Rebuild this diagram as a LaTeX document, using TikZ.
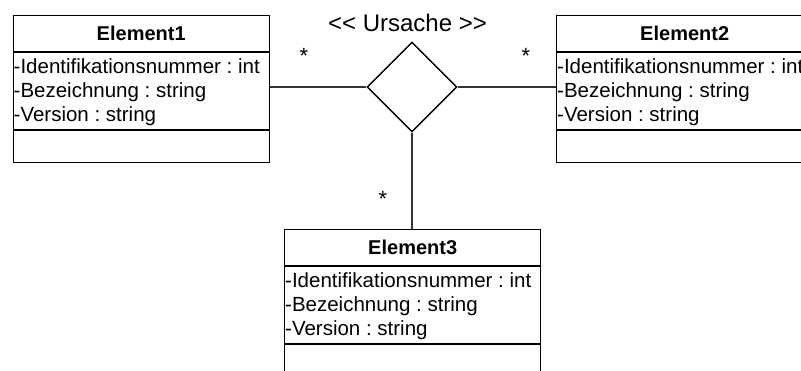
\documentclass[tikz,border=0pt]{standalone}
\usepackage{fontspec}
\setmainfont{Liberation Sans}
\usetikzlibrary{shapes.geometric}
\frenchspacing

\tikzset{
  classbox/.style={draw=black, line width=1.4pt, minimum width=256pt, minimum height=147pt, inner sep=0pt},
  divider/.style={draw=black, line width=1.4pt},
  classtitle/.style={font=\fontsize{20}{23}\selectfont\bfseries, inner sep=0pt},
  attr/.style={font=\fontsize{20.5}{23}\selectfont, inner sep=0pt, anchor=base west},
  relation/.style={shape=diamond, draw=black, line width=1.4pt, minimum width=90pt, minimum height=90pt, inner sep=0pt},
  assoc/.style={draw=black!80, line width=1.1pt},
  mult/.style={font=\fontsize{22}{24}\selectfont, inner sep=0pt},
  stereo/.style={font=\fontsize{24}{26}\selectfont, inner sep=0pt}
}

% \drawclass{name}{left x}{top y}{title}
\newcommand\drawclass[4]{%
  \node[classbox, anchor=north west] (#1) at (#2,#3) {};
  \draw[divider] ([yshift=-37pt]#1.north west) -- ([yshift=-37pt]#1.north east);
  \draw[divider] ([yshift=-115pt]#1.north west) -- ([yshift=-115pt]#1.north east);
  \node[classtitle] (#1-title) at ([yshift=-18.5pt]#1.north) {#4};
  \node[attr] (#1-a1) at ([xshift=1pt, yshift=-58pt]#1.north west) {-Identifikationsnummer : int};
  \node[attr] (#1-a2) at ([xshift=1pt, yshift=-82pt]#1.north west) {-Bezeichnung : string};
  \node[attr] (#1-a3) at ([xshift=1pt, yshift=-106pt]#1.north west) {-Version : string};
}

\begin{document}
\begin{tikzpicture}[x=1pt, y=-1pt]
  \useasboundingbox (0,0) rectangle (801,370);

  % classes
  \drawclass{e1}{12.5}{15}{Element1}
  \drawclass{e2}{556}{15}{Element2}
  \drawclass{e3}{284}{229}{Element3}

  % n-ary association
  \node[relation] (rel) at (412,87) {};
  \node[stereo] (ursache) at (407.5,23) {<\kern0pt< Ursache >\kern0pt>};

  \draw[assoc] (e1.east |- rel.west) -- (rel.west);
  \draw[assoc] (rel.east) -- (rel.east -| e2.west);
  \draw[assoc] (rel.south) -- (rel.south |- e3.north);

  % multiplicities
  \node[mult] (m1) at (304,56) {*};
  \node[mult] (m2) at (526,56) {*};
  \node[mult] (m3) at (383,199) {*};
\end{tikzpicture}
\end{document}
